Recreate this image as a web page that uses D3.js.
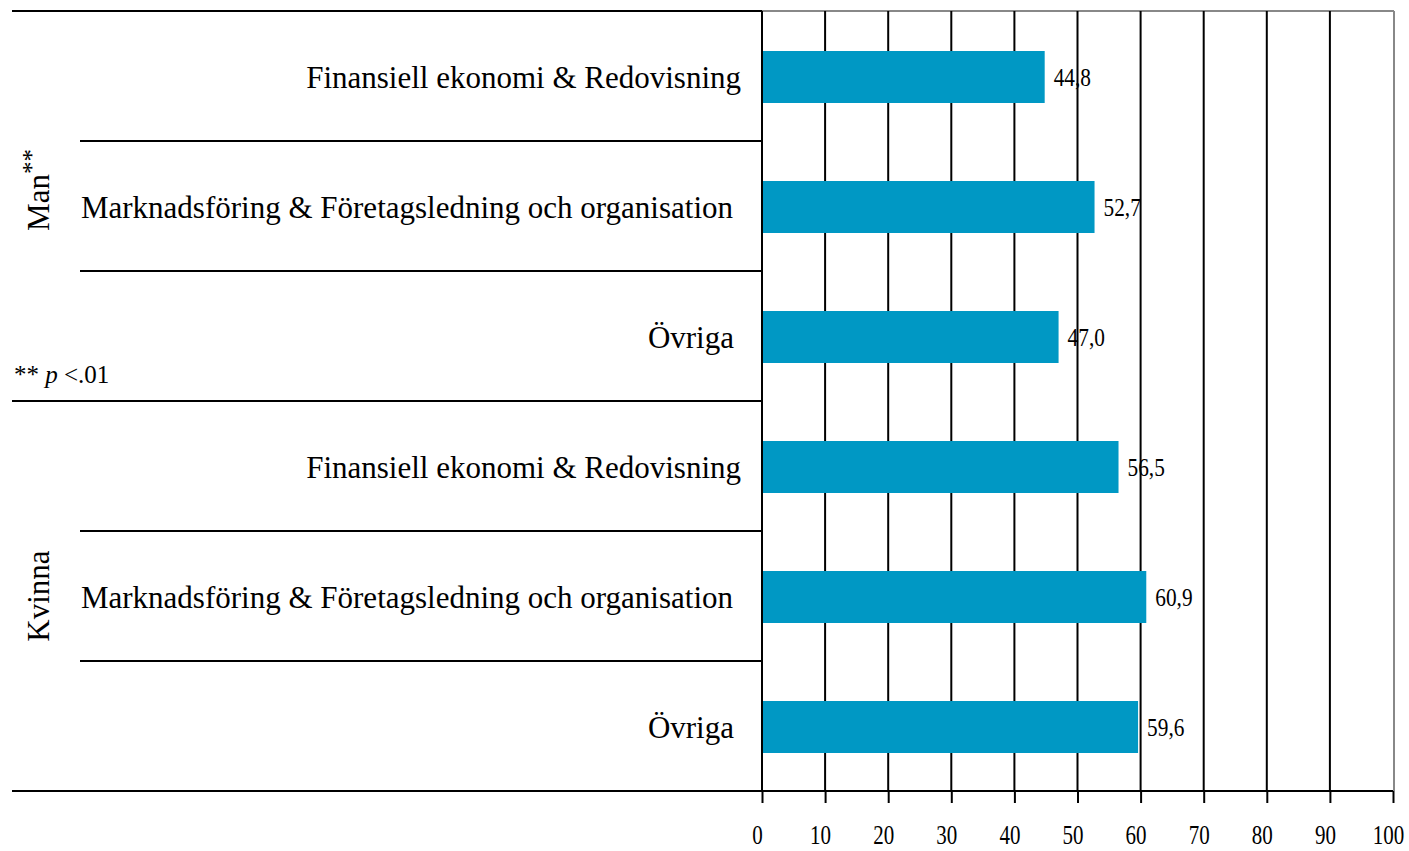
<!DOCTYPE html>
<html>
<head>
<meta charset="utf-8">
<script src="https://cdn.jsdelivr.net/npm/d3@7"></script>
<style>
  body { margin: 0; background: #fff; }
  text { font-family: "Liberation Serif", "Times New Roman", serif; fill: #000; }
</style>
</head>
<body>
<div id="chart"></div>
<script>
// data
var groups = ["Man", "Kvinna"];
var groupMarks = ["**", ""];
var categories = ["Finansiell ekonomi & Redovisning",
                  "Marknadsföring & Företagsledning och organisation",
                  "Övriga"];
var manValues = [44.8, 52.7, 47.0];
var kvinnaValues = [56.5, 60.9, 59.6];
var xTicks = [0, 10, 20, 30, 40, 50, 60, 70, 80, 90, 100];

var WIDTH = 1409, HEIGHT = 851;
var LEFT = 762, RIGHT = 1393, TOP = 11, BOTTOM = 791;
var BAR_COLOR = "#0098c4";

var rows = [];
groups.forEach(function (g, gi) {
  var vals = gi === 0 ? manValues : kvinnaValues;
  categories.forEach(function (c, ci) {
    rows.push({ key: g + "|" + c, group: g, cat: c, value: vals[ci], gi: gi, ci: ci });
  });
});

var svg = d3.select("#chart").append("svg")
    .attr("width", WIDTH).attr("height", HEIGHT);

var x = d3.scaleLinear().domain([0, 100]).range([LEFT, RIGHT]);
var y = d3.scaleBand().domain(rows.map(function (d) { return d.key; }))
    .range([TOP, BOTTOM]).paddingInner(0.6).paddingOuter(0.3);
var step = y.step();

// plot frame (gray top and right)
svg.append("line").attr("x1", LEFT).attr("x2", RIGHT + 1).attr("y1", TOP).attr("y2", TOP)
    .attr("stroke", "#888").attr("stroke-width", 2);
svg.append("line").attr("x1", RIGHT + 1).attr("x2", RIGHT + 1).attr("y1", TOP).attr("y2", BOTTOM)
    .attr("stroke", "#888").attr("stroke-width", 2);

// vertical gridlines
svg.selectAll("line.grid").data(xTicks.slice(1, -1)).enter().append("line")
    .attr("class", "grid")
    .attr("x1", function (d) { return x(d); }).attr("x2", function (d) { return x(d); })
    .attr("y1", TOP).attr("y2", BOTTOM)
    .attr("stroke", "#000").attr("stroke-width", 2);

// category separators on the left
var seps = [];
for (var i = 0; i <= rows.length; i++) {
  seps.push({ y: TOP + i * step, full: i % 3 === 0 });
}
svg.selectAll("line.sep").data(seps).enter().append("line")
    .attr("class", "sep")
    .attr("x1", function (d) { return d.full ? 12 : 80; })
    .attr("x2", LEFT)
    .attr("y1", function (d) { return d.y; }).attr("y2", function (d) { return d.y; })
    .attr("stroke", "#000").attr("stroke-width", 2);

// left axis line
svg.append("line").attr("x1", LEFT).attr("x2", LEFT).attr("y1", TOP).attr("y2", BOTTOM)
    .attr("stroke", "#000").attr("stroke-width", 2);

// bars
svg.selectAll("rect.bar").data(rows).enter().append("rect")
    .attr("class", "bar")
    .attr("x", x(0) + 1)
    .attr("y", function (d) { return y(d.key) + 1; })
    .attr("width", function (d) { return x(d.value) - x(0) - 1; })
    .attr("height", y.bandwidth())
    .attr("fill", BAR_COLOR);

// value labels (narrow, tall digits like the original)
svg.selectAll("text.val").data(rows).enter().append("text")
    .attr("class", "val")
    .attr("transform", function (d) {
      return "translate(" + (x(d.value) + 9) + "," + (y(d.key) + y.bandwidth() / 2 + 1) + ") scale(0.82,1)";
    })
    .attr("dy", "0.35em")
    .style("font-size", "26px")
    .text(function (d) { return d3.format(".1f")(d.value).replace(".", ","); });

// category labels
svg.selectAll("text.cat").data(rows).enter().append("text")
    .attr("class", "cat")
    .attr("x", function (d) { return d.ci === 1 ? 733 : (d.ci === 2 ? 734 : 741); })
    .attr("y", function (d) { return y(d.key) + y.bandwidth() / 2 + 1; })
    .attr("dy", "0.35em")
    .attr("text-anchor", "end")
    .style("font-size", "31px")
    .text(function (d) { return d.cat; });

// group labels (rotated)
groups.forEach(function (g, gi) {
  var cy = TOP + (gi * 3 + 1.5) * step;
  var t = svg.append("text")
      .attr("transform", "translate(49," + (cy - (gi === 0 ? 16 : 0)) + ") rotate(-90)")
      .attr("text-anchor", "middle")
      .style("font-size", "31px");
  t.append("tspan").text(g);
  if (groupMarks[gi]) {
    t.append("tspan").attr("dy", "-0.35em").style("font-size", "25px").text(groupMarks[gi]);
  }
});

// note
var note = svg.append("text").attr("x", 14).attr("y", 383).style("font-size", "25px");
note.append("tspan").text("** ");
note.append("tspan").style("font-style", "italic").text("p");
note.append("tspan").text(" <.01");

// bottom axis
var xAxis = d3.axisBottom(x).tickValues(xTicks).tickSize(12).tickFormat(d3.format("d"));
var gx = svg.append("g").attr("transform", "translate(0," + BOTTOM + ")").call(xAxis);
gx.select(".domain").remove();
gx.selectAll(".tick line").attr("stroke", "#000").attr("stroke-width", 2);
gx.selectAll(".tick text")
    .attr("y", null).attr("dy", null)
    .attr("transform", "translate(-5,53) scale(0.75,1)")
    .style("font-family", "'Liberation Serif', serif")
    .style("font-size", "28px")
    .attr("fill", "#000");
svg.append("line").attr("x1", 12).attr("x2", RIGHT).attr("y1", BOTTOM).attr("y2", BOTTOM)
    .attr("stroke", "#000").attr("stroke-width", 2);
</script>
</body>
</html>
